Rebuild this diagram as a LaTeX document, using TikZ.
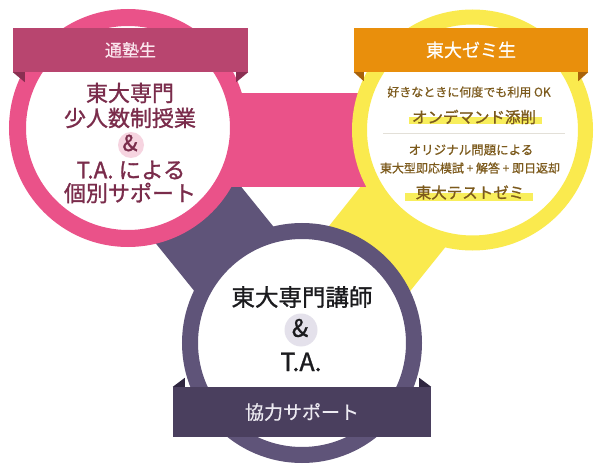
\documentclass[tikz,border=0pt]{standalone}
\usepackage{fontspec}
\setmainfont{Noto Sans CJK JP}
\newfontfamily\jpb{Noto Sans CJK JP}[FakeBold=1.2]
\newfontfamily\jpm{Noto Sans CJK JP}[FakeBold=0.6]
\definecolor{pinkring}{HTML}{EA5289}
\definecolor{pinkban}{HTML}{B8456F}
\definecolor{pinkfold}{HTML}{8A2F52}
\definecolor{pinktext}{HTML}{7A2C4B}
\definecolor{pinkamp}{HTML}{F6D4E0}
\definecolor{pinkbantext}{HTML}{FBE6EE}
\definecolor{yelring}{HTML}{FAEA4E}
\definecolor{orban}{HTML}{E98F0C}
\definecolor{orfold}{HTML}{A8620A}
\definecolor{yeltext}{HTML}{7C5A1C}
\definecolor{hl}{HTML}{F8EE5C}
\definecolor{sepc}{HTML}{E3E0D8}
\definecolor{darkring}{HTML}{5F5479}
\definecolor{darkban}{HTML}{4A3F5E}
\definecolor{darkfold}{HTML}{2F2640}
\definecolor{darkamp}{HTML}{E4E1EB}
\definecolor{darktext}{HTML}{1B1B1E}
\definecolor{darkbantext}{HTML}{ECEAF1}
\tikzset{
  ring/.style={circle, fill=white, inner sep=0pt},
  banner/.style={rectangle, inner sep=0pt, anchor=center},
  fs/.style={font=\jpm\fontsize{#1}{#1}\selectfont, inner sep=0pt, anchor=center},
  fb/.style={font=\jpb\fontsize{#1}{#1}\selectfont, inner sep=0pt, anchor=center},
}
\begin{document}
\begin{tikzpicture}[x=1pt,y=-1pt]
\useasboundingbox[fill=white] (0,0) rectangle (600,473);
\coordinate (pc) at (128,128);
\coordinate (yc) at (472.5,130);
\coordinate (dc) at (302,343);
% bands
\draw[line width=102pt, darkring] (pc) -- (dc);
\draw[line width=104pt, yelring] (yc) -- (dc);
\fill[pinkring] (128,93) rectangle (472,187);
% circles
\node[ring, draw=pinkring, line width=17pt, minimum size=221pt] (pink) at (pc) {};
\node[ring, draw=yelring, line width=15pt, minimum size=226pt] (yel) at (yc) {};
\node[ring, draw=darkring, line width=16pt, minimum size=224pt] (dark) at (dc) {};
% banners
\node[banner, fill=pinkban, minimum width=235pt, minimum height=44pt] (pb) at (130.5,50) {};
\fill[pinkfold] (pb.south west) -- ++(12,0) -- ++(0,10) -- cycle;
\fill[pinkfold] (pb.south east) -- ++(-12,0) -- ++(0,10) -- cycle;
\node[fs=17, text=pinkbantext] (pbt) at (pb.center) {通塾生};
\node[banner, fill=orban, minimum width=234pt, minimum height=44pt] (yb) at (471,50) {};
\fill[orfold] (yb.south west) -- ++(10,0) -- ++(0,9) -- cycle;
\fill[orfold] (yb.south east) -- ++(-10,0) -- ++(0,9) -- cycle;
\node[fs=18, text=white] (ybt) at (yb.center) {東大ゼミ生};
\node[banner, fill=darkban, minimum width=258pt, minimum height=50pt] (db) at (302,412) {};
\fill[darkfold] (db.north west) -- ++(12,0) -- ++(0,-9) -- cycle;
\fill[darkfold] (db.north east) -- ++(-12,0) -- ++(0,-9) -- cycle;
\node[fs=19, text=darkbantext] (dbt) at (db.center) {協力サポート};
% pink text
\node[fb=22, text=pinktext] (p1) at (130,93) {東大専門};
\node[fb=22, text=pinktext] (p2) at (130,118) {少人数制授業};
\node[circle, fill=pinkamp, minimum size=26pt, inner sep=0pt] (pab) at (131,145) {};
\node[fb=22, text=pinktext] (p3) at (130,143) {\&};
\node[fb=22.5, text=pinktext] (p4) at (131,170) {T.A. による};
\node[fb=22, text=pinktext] (p5) at (130,193) {個別サポート};
% yellow text
\node[fs=12, text=yeltext] (y1) at (469,92) {好きなときに何度でも利用 OK};
\fill[hl] (409,117) rectangle (542,124.5);
\node[fb=15.5, text=yeltext] (y2) at (474,117) {オンデマンド添削};
\draw[sepc, line width=0.8pt] (383,133) -- (565,133);
\node[fs=12.5, text=yeltext] (y3) at (471,150) {オリジナル問題による};
\node[fs=12, text=yeltext] (y4) at (470,168) {東大型即応模試 + 解答 + 即日返却};
\fill[hl] (405,193.5) rectangle (533,201);
\node[fb=15.5, text=yeltext] (y5) at (470,192.5) {東大テストゼミ};
% dark text
\node[fb=23.5, text=darktext] (d1) at (302,297) {東大専門講師};
\node[circle, fill=darkamp, minimum size=33pt, inner sep=0pt] (dab) at (301,330) {};
\node[fb=24, text=darktext] (d2) at (300,328) {\&};
\node[fb=25, text=darktext] (d3) at (301,362) {T.A.};
\end{tikzpicture}
\end{document}
